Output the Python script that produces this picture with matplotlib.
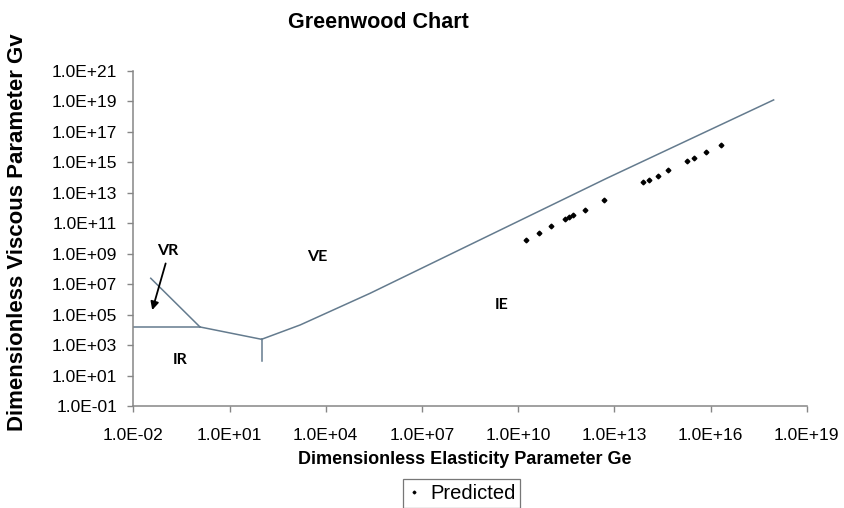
import matplotlib
matplotlib.use("Agg")
import matplotlib.pyplot as plt
from matplotlib.ticker import FixedLocator, FuncFormatter, NullLocator

plt.rcParams["font.family"] = ["Liberation Sans", "DejaVu Sans"]

# predicted operating points (Ge, Gv)
ge_pred = [1.8e10, 4.6e10, 1.07e11, 3.0e11, 3.9e11, 5.0e11, 1.23e12, 4.8e12,
           7.6e13, 1.2e14, 2.24e14, 4.8e14, 1.86e15, 3.1e15, 7.4e15, 2.2e16]
gv_pred = [7.9e9, 2.4e10, 6.6e10, 1.9e11, 2.7e11, 3.4e11, 7.8e11, 3.2e12,
           5.1e13, 7.2e13, 1.29e14, 3.0e14, 1.17e15, 2.0e15, 4.8e15, 1.45e16]

# regime boundaries
ir_vr_ge = [1e-2, 1.2]
ir_vr_gv = [1.55e4, 1.55e4]
vr_ve_ge = [0.035, 1.2]
vr_ve_gv = [2.45e7, 1.55e4]
ir_up_ge = [1.2, 100]
ir_up_gv = [1.55e4, 2.4e3]
ir_ie_ge = [100, 100]
ir_ie_gv = [2.4e3, 91]
ve_ie_ge = [100, 1.6e3, 2.4e5, 5.75e12, 9.3e17]
ve_ie_gv = [2.4e3, 2.1e4, 2.5e6, 8.9e13, 1.26e19]

x_ticks = [1e-2, 1e1, 1e4, 1e7, 1e10, 1e13, 1e16, 1e19]
y_ticks = [1e-1, 1e1, 1e3, 1e5, 1e7, 1e9, 1e11, 1e13, 1e15, 1e17, 1e19, 1e21]

W, H = 844, 508
fig = plt.figure(figsize=(W / 100, H / 100), dpi=100)
ax = fig.add_axes([133.3 / W, (H - 406) / H, (806.7 - 133.3) / W, (406 - 71) / H])

line_c = "#647b8e"
for gx, gy in [(ir_vr_ge, ir_vr_gv), (vr_ve_ge, vr_ve_gv), (ir_up_ge, ir_up_gv),
               (ir_ie_ge, ir_ie_gv), (ve_ie_ge, ve_ie_gv)]:
    ax.plot(gx, gy, color=line_c, lw=1.1)

ax.plot(ge_pred, gv_pred, linestyle="", marker="D", ms=2.4, color="black",
        label="Predicted")

ax.set_xscale("log")
ax.set_yscale("log")
ax.set_xlim(1e-2, 1e19)
ax.set_ylim(1e-1, 1e21)
ax.xaxis.set_major_locator(FixedLocator(x_ticks))
ax.yaxis.set_major_locator(FixedLocator(y_ticks))
ax.xaxis.set_minor_locator(NullLocator())
ax.yaxis.set_minor_locator(NullLocator())
fmt = FuncFormatter(lambda v, p: f"{v:.1E}")
ax.xaxis.set_major_formatter(fmt)
ax.yaxis.set_major_formatter(fmt)

for s in ["top", "right"]:
    ax.spines[s].set_visible(False)
for s in ["left", "bottom"]:
    ax.spines[s].set_color("#868686")
    ax.spines[s].set_linewidth(1.1)
ax.tick_params(axis="both", direction="out", length=4, width=1, color="#868686",
               labelsize=12.5)
ax.tick_params(axis="y", pad=7.5)
ax.tick_params(axis="x", pad=12)

# regime labels
lab = dict(fontsize=11.5, fontweight="bold", family=["Lato", "DejaVu Sans"],
           ha="center", va="center")
ax.text(0.12, 1.5e9, "VR", **lab)
ax.text(0.29, 105, "IR", **lab)
ax.text(5.4e3, 6.2e8, "VE", **lab)
ax.text(3.1e9, 4.4e5, "IE", **lab)
ax.annotate("", xy=(0.039, 2.0e5), xytext=(0.102, 2.3e8),
            arrowprops=dict(arrowstyle="-|>", color="black", lw=1.3,
                            mutation_scale=12, shrinkA=0, shrinkB=0))

fig.text(378.5 / W, 1 - 23 / H, "Greenwood Chart", ha="center", va="center",
         fontsize=15.5, fontweight="bold")
fig.text(464.5 / W, 1 - 460 / H, "Dimensionless Elasticity Parameter Ge",
         ha="center", va="center", fontsize=13, fontweight="bold")
fig.text(17.5 / W, 1 - 232.5 / H, "Dimensionless Viscous Parameter Gv",
         ha="center", va="center", rotation=90, fontsize=16, fontweight="bold")

leg = fig.legend(loc="upper center", bbox_to_anchor=(461.7 / W, 1 - 479 / H),
                 fontsize=14.5, frameon=True, fancybox=False, markerscale=0.6,
                 handlelength=0.6, handletextpad=0.5, borderpad=0.25,
                 borderaxespad=0)
leg.get_frame().set_edgecolor("#555555")
leg.get_frame().set_linewidth(0.9)

fig.savefig("out.png", dpi=100)
